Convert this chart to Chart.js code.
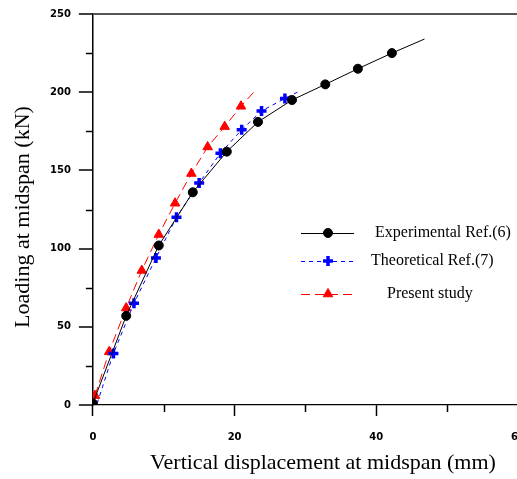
<!DOCTYPE html>
<html>
<head>
<meta charset="utf-8">
<script src="https://cdn.jsdelivr.net/npm/chart.js@4/dist/chart.umd.min.js"></script>
<style>
  html, body { margin: 0; padding: 0; background: #fff; overflow: hidden; }
  #wrap { width: 540px; height: 479px; }
</style>
</head>
<body>
<div id="wrap"><canvas id="chart" width="540" height="479"></canvas></div>
<script>
// Experimental Ref.(6)
const dispExp = [0, 4.7, 9.3, 14.1, 18.9, 23.3, 28.1, 32.8, 37.4, 42.2, 46.8];
const loadExp = [1, 57, 102, 136, 162, 181, 195, 205, 215, 225, 234];
// Theoretical Ref.(7)
const dispTheo = [0.6, 2.9, 5.8, 8.9, 11.8, 15.0, 18.0, 21.0, 23.8, 27.1, 29.3];
const loadTheo = [1, 33, 65, 94, 120, 142, 161, 176, 188, 196, 201];
// Present study
const dispPres = [0.3, 2.3, 4.7, 6.9, 9.3, 11.6, 13.9, 16.2, 18.6, 20.9, 22.9];
const loadPres = [6, 34, 62, 86, 109, 129, 148, 165, 178, 191, 201];

const seriesNames = ['Experimental Ref.(6)', 'Theoretical Ref.(7)', 'Present study'];
const xTitle = 'Vertical displacement at midspan (mm)';
const yTitle = 'Loading at midspan (kN)';
const minorX = [10, 30, 50];
const minorY = [25, 75, 125, 175, 225];

function toPoints(xs, ys) {
    return xs.map((x, i) => ({ x: x, y: ys[i] }));
}

// hide markers on the unmarked line ends
function markerRadius(size, skipFirst) {
    return ctx => {
        const n = ctx.dataset.data.length;
        if (ctx.dataIndex === n - 1) return 0;
        if (skipFirst && ctx.dataIndex === 0) return 0;
        return size;
    };
}

const extras = {
    id: 'extras',
    afterDraw(chart) {
        const { ctx, chartArea, scales } = chart;
        ctx.save();
        ctx.strokeStyle = '#000';
        ctx.lineWidth = 1.5;
        minorX.forEach(v => {
            const px = Math.round(scales.x.getPixelForValue(v)) + 0.5;
            ctx.beginPath();
            ctx.moveTo(px, chartArea.bottom);
            ctx.lineTo(px, chartArea.bottom + 7);
            ctx.stroke();
        });
        minorY.forEach(v => {
            const py = Math.round(scales.y.getPixelForValue(v)) + 0.5;
            ctx.beginPath();
            ctx.moveTo(chartArea.left, py);
            ctx.lineTo(chartArea.left - 7, py);
            ctx.stroke();
        });

        // axis titles, both sit a little off centre in the original
        ctx.fillStyle = '#000';
        ctx.font = '22px "Liberation Serif"';
        ctx.textAlign = 'center';
        ctx.textBaseline = 'middle';
        ctx.fillText(xTitle, 323, 463);
        ctx.save();
        ctx.translate(23, 217);
        ctx.rotate(-Math.PI / 2);
        ctx.fillText(yTitle, 0, 0);
        ctx.restore();

        // legend
        const rows = [233, 261, 294];
        const textX = [375, 371, 387];
        chart.data.datasets.forEach((ds, i) => {
            const y = rows[i];
            ctx.save();
            ctx.strokeStyle = ds.borderColor;
            ctx.lineWidth = 1;
            ctx.setLineDash(ds.borderDash || []);
            ctx.beginPath();
            ctx.moveTo(301, y + 0.5);
            ctx.lineTo(354, y + 0.5);
            ctx.stroke();
            ctx.restore();
            ctx.fillStyle = ds.pointBackgroundColor;
            ctx.strokeStyle = ds.pointBorderColor;
            ctx.lineWidth = ds.pointBorderWidth;
            Chart.helpers.drawPoint(ctx, {
                pointStyle: ds.pointStyle,
                radius: ds.legendRadius,
                borderWidth: ds.pointBorderWidth,
                rotation: 0
            }, 328, y);
            ctx.fillStyle = '#000';
            ctx.font = '16px "Liberation Serif"';
            ctx.textBaseline = 'middle';
            ctx.textAlign = 'left';
            ctx.fillText(seriesNames[i], textX[i], y);
        });
        ctx.restore();
    }
};

new Chart(document.getElementById('chart'), {
    type: 'line',
    data: {
        datasets: [
            {
                label: seriesNames[0],
                data: toPoints(dispExp, loadExp),
                borderColor: '#000',
                borderWidth: 1,
                pointStyle: 'circle',
                pointRadius: markerRadius(4.5, false),
                legendRadius: 4.5,
                pointBackgroundColor: '#000',
                pointBorderColor: '#000',
                pointBorderWidth: 1
            },
            {
                label: seriesNames[1],
                data: toPoints(dispTheo, loadTheo),
                borderColor: '#0000ff',
                borderWidth: 1,
                borderDash: [4, 4],
                pointStyle: 'cross',
                pointRadius: markerRadius(5, true),
                legendRadius: 5,
                pointBackgroundColor: '#0000ff',
                pointBorderColor: '#0000ff',
                pointBorderWidth: 3.5
            },
            {
                label: seriesNames[2],
                data: toPoints(dispPres, loadPres),
                borderColor: '#ff0000',
                borderWidth: 1,
                borderDash: [9, 5],
                pointStyle: 'triangle',
                pointRadius: markerRadius(5.5, false),
                legendRadius: 5.5,
                pointBackgroundColor: '#ff0000',
                pointBorderColor: '#ff0000',
                pointBorderWidth: 1
            }
        ]
    },
    options: {
        responsive: false,
        animation: false,
        events: [],
        layout: { padding: { left: 42, right: 16, top: 10, bottom: 21 } },
        plugins: { legend: { display: false }, tooltip: { enabled: false } },
        scales: {
            x: {
                type: 'linear',
                min: 0,
                max: 60,
                ticks: {
                    stepSize: 20,
                    padding: 15,
                    color: '#000',
                    font: { family: 'DejaVu Sans', size: 10, weight: 'bold' }
                },
                grid: {
                    drawOnChartArea: false,
                    tickLength: 11,
                    tickColor: '#000',
                    tickWidth: 1.5
                },
                border: { color: '#000', width: 1.2 },
                title: { display: false }
            },
            y: {
                type: 'linear',
                min: 0,
                max: 250,
                ticks: {
                    stepSize: 50,
                    padding: 8,
                    color: '#000',
                    font: { family: 'DejaVu Sans', size: 10, weight: 'bold' }
                },
                grid: {
                    color: ctx => ctx.tick && ctx.tick.value === 250 ? '#555' : 'rgba(0,0,0,0)',
                    lineWidth: 2,
                    tickLength: 14,
                    tickColor: '#000',
                    tickWidth: 1.5
                },
                border: { color: '#000', width: 1.5 },
                title: { display: false }
            }
        }
    },
    plugins: [extras]
});
</script>
</body>
</html>
